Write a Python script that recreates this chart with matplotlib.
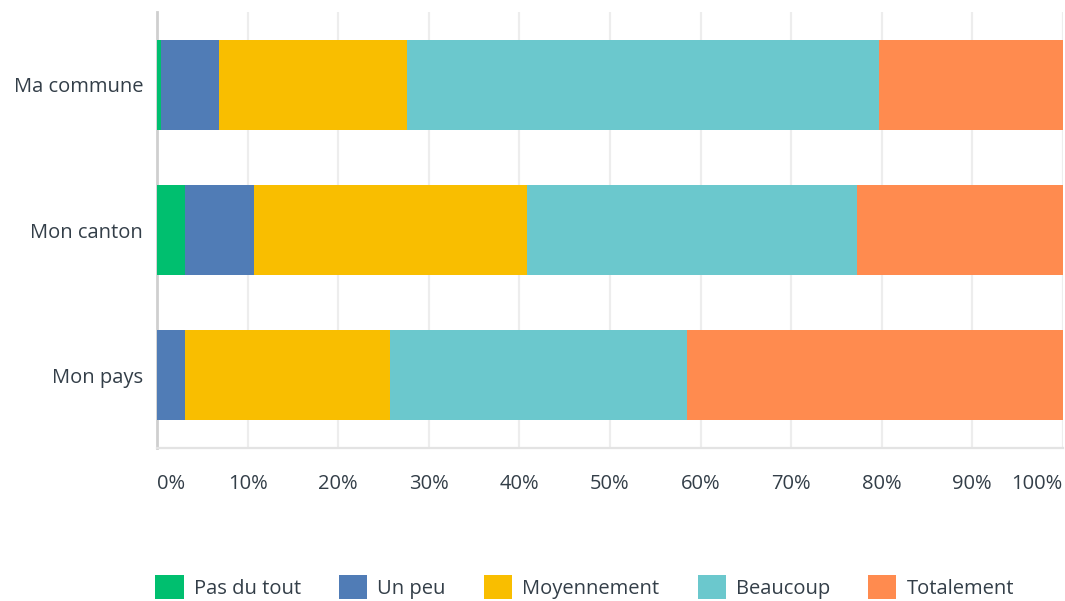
import matplotlib.pyplot as plt
from matplotlib.patches import Patch
import numpy as np

plt.rcParams['font.family'] = ['Open Sans', 'DejaVu Sans']

categories = ["Ma commune", "Mon canton", "Mon pays"]
series = ["Pas du tout", "Un peu", "Moyennement", "Beaucoup", "Totalement"]
colors = ["#00bf6f", "#507cb6", "#f9be00", "#6bc8cd", "#ff8b4f"]

pas_du_tout = [0.45, 3.1, 0.0]
un_peu = [6.4, 7.6, 3.1]
moyennement = [20.8, 30.1, 22.6]
beaucoup = [52.1, 36.5, 32.8]
totalement = [20.25, 22.7, 41.5]

values = [pas_du_tout, un_peu, moyennement, beaucoup, totalement]
ticks = [0, 10, 20, 30, 40, 50, 60, 70, 80, 90, 100]
tick_labels = ["%d%%" % t for t in ticks]

text_col = "#333e48"
fs = 14.5

fig = plt.figure(figsize=(10.65, 6.01), dpi=100)
ax = fig.add_axes([0.1474, 0.2546, 0.8506, 0.7254])

y = np.arange(len(categories))
left = np.zeros(len(categories))
for vals, col in zip(values, colors):
    ax.barh(y, vals, left=left, height=0.62, color=col, zorder=3)
    left += np.array(vals)

ax.set_xlim(0, 100)
ax.set_ylim(2.5, -0.5)
ax.set_xticks(ticks)
ax.set_xticklabels(tick_labels)
ax.set_yticks(y)
ax.set_yticklabels(categories)
ax.grid(axis='x', color='#ededed', linewidth=1.6, zorder=0)
ax.tick_params(axis='both', length=0, labelsize=fs, labelcolor=text_col)
ax.tick_params(axis='x', pad=19)
ax.tick_params(axis='y', pad=10)

lbls = ax.get_xticklabels()
lbls[0].set_horizontalalignment('left')
lbls[-1].set_horizontalalignment('right')

for s in ['top', 'right']:
    ax.spines[s].set_visible(False)
ax.spines['left'].set_color('#cfcfcf')
ax.spines['left'].set_linewidth(2)
ax.spines['bottom'].set_color('#e3e3e3')
ax.spines['bottom'].set_linewidth(1.6)

handles = [Patch(facecolor=c, edgecolor='none') for c in colors]
fig.legend(handles, series, loc='center', bbox_to_anchor=(0.549, 0.023),
           ncol=5, frameon=False, fontsize=fs, labelcolor=text_col,
           handlelength=1.4, handleheight=1.45, handletextpad=0.5,
           columnspacing=1.9)

fig.savefig("out.png", dpi=100)
